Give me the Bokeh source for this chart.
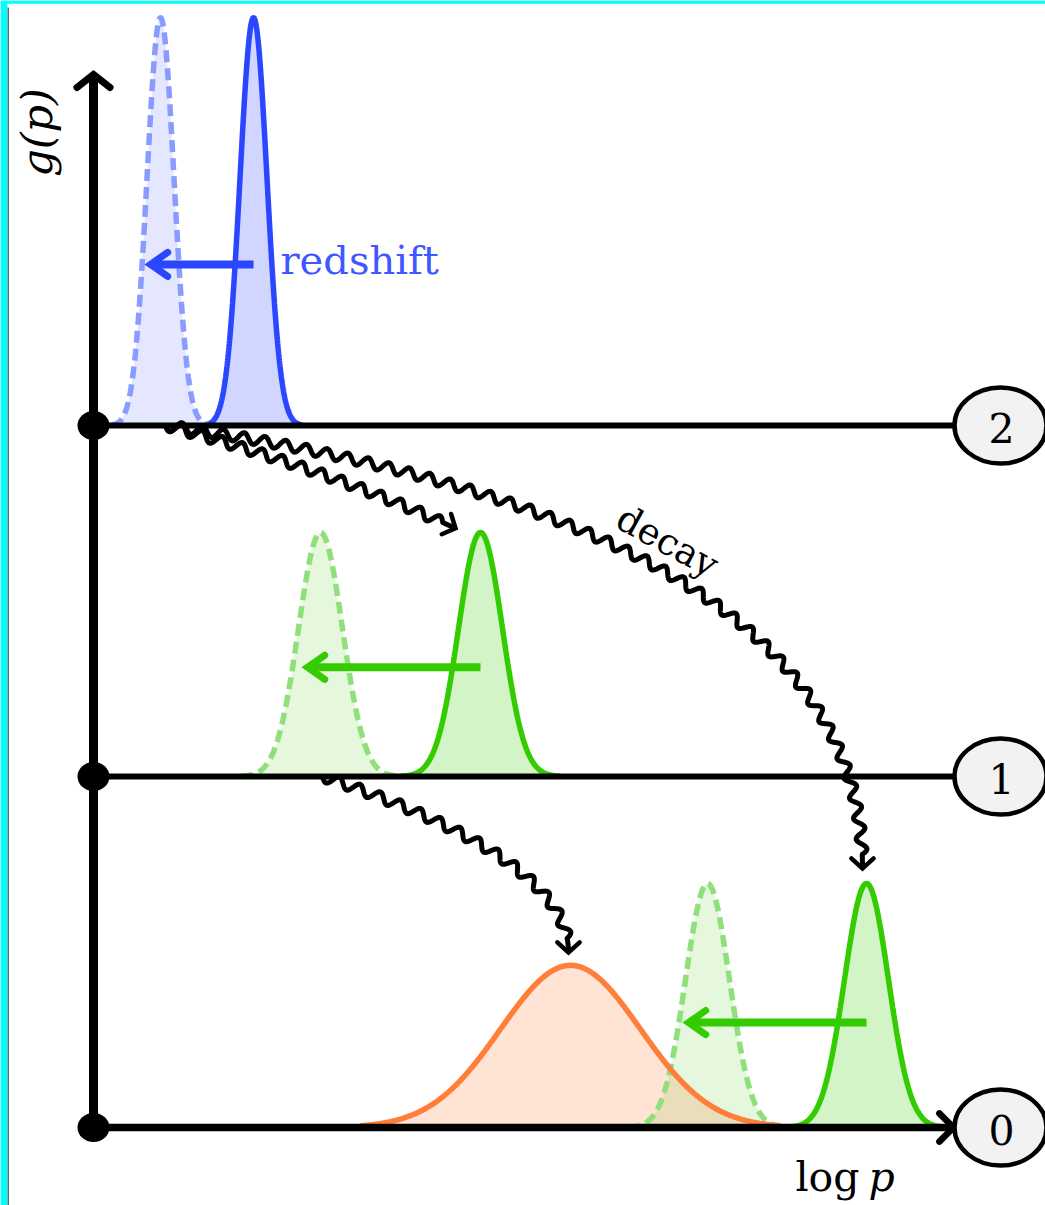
import numpy as np
from bokeh.plotting import figure
from bokeh.models import Range1d
from bokeh.core.properties import value
from bokeh.embed import file_html
from bokeh.resources import INLINE

# ---------------- data ----------------
level_labels = ["0", "1", "2"]
level_values = [0, 1, 2]
axis_top = 3.0        # extent of the g(p) axis
axis_right = 860      # extent of the log p axis

# peaks: level, centre (log p units), sigma, height (level units)
peak_level = [2, 2, 1, 1, 0, 0, 0]
peak_center = [160, 67, 387, 227, 773, 614, 477]
peak_sigma = [13.5, 13.5, 22, 22, 22, 22, 70]
peak_height = [1.162, 1.162, 0.695, 0.695, 0.695, 0.695, 0.462]
peak_kind = ["source", "shifted", "source", "shifted", "source", "shifted", "decay"]
peak_family = ["blue", "blue", "green", "green", "green", "green", "orange"]

# redshift arrows
redshift_from = [160, 387, 773]
redshift_to = [57, 214, 595]
redshift_y = [2.459, 1.311, 0.299]
redshift_family = ["blue", "green", "green"]

# decay (wavy) arrows: start, end, bend control point
decay_x0 = [72, 72, 229]
decay_y0 = [2, 2, 1]
decay_x1 = [362, 769, 475]
decay_y1 = [1.707, 0.738, 0.499]
decay_cx = [237, 769, 475]
decay_cy = [1.872, 1.718, 0.766]

# ---------------- styles ----------------
SOLID = {"blue": "#2b46ff", "green": "#33cc00", "orange": "#ff7f3a"}
DASHED = {"blue": "#8a9bff", "green": "#8fe07a"}
SERIF = value("DejaVu Serif")

# pixel <-> data helpers (1 x unit = 1 px, 1 level = 351 px)
OX, OY, LS = 93.0, 1127.0, 351.0


def PX(x):
    return np.asarray(x, float) + OX


def PY(y):
    return OY - LS * np.asarray(y, float)


def DX(px):
    return np.asarray(px, float) - OX


def DY(py):
    return (OY - np.asarray(py, float)) / LS


p = figure(width=1045, height=1205,
           x_range=Range1d(DX(0), DX(1045)), y_range=Range1d(DY(1205), DY(0)),
           output_backend="svg", toolbar_location=None, min_border=0,
           x_axis_type=None, y_axis_type=None, outline_line_color=None,
           background_fill_color="white", border_fill_color="white")
p.xgrid.grid_line_color = None
p.ygrid.grid_line_color = None

# frame decoration (cyan edges)
p.quad(left=[DX(0), DX(0)], right=[DX(7), DX(1045)],
       bottom=[DY(1205), DY(3.3)], top=[DY(0), DY(0)],
       fill_color="#00ffff", line_color=None)
p.line(x=[DX(7.8), DX(7.8)], y=[DY(7), DY(1205)], line_color="#666666", line_width=1.5)

# ---------------- peaks ----------------
for lv, mu, sg, h, kind, fam in zip(peak_level, peak_center, peak_sigma,
                                     peak_height, peak_kind, peak_family):
    span = 3.0 if kind == "decay" else 3.6
    xs = np.linspace(mu - span * sg, mu + span * sg, 300)
    ys = lv + h * np.exp(-0.5 * ((xs - mu) / sg) ** 2)
    col = SOLID[fam]
    alpha = 0.13 if kind == "shifted" else 0.22
    p.varea(x=xs, y1=np.full_like(xs, lv), y2=ys, fill_color=col, fill_alpha=alpha)

for lv, mu, sg, h, kind, fam in zip(peak_level, peak_center, peak_sigma,
                                     peak_height, peak_kind, peak_family):
    span = 3.0 if kind == "decay" else 3.6
    xs = np.linspace(mu - span * sg, mu + span * sg, 300)
    ys = lv + h * np.exp(-0.5 * ((xs - mu) / sg) ** 2)
    if kind == "shifted":
        p.line(xs, ys, line_color=DASHED[fam], line_width=5.5, line_dash="12 6")
    else:
        p.line(xs, ys, line_color=SOLID[fam], line_width=5.5)

# ---------------- axes and levels ----------------
for lv in level_values[1:]:
    p.line(x=[0, axis_right], y=[lv, lv], line_color="black", line_width=6)
p.line(x=[0, axis_right], y=[0, 0], line_color="black", line_width=7.5)
p.line(x=[0, 0], y=[0, axis_top], line_color="black", line_width=9)


def chevron(tip_px, tip_py, dirx, diry, length, half_angle_deg):
    d = np.array([dirx, diry], float)
    d /= np.hypot(*d)
    a = np.radians(half_angle_deg)
    pts = []
    for s in (1, -1):
        ca, sa = np.cos(s * a), np.sin(s * a)
        r = np.array([d[0] * ca - d[1] * sa, d[0] * sa + d[1] * ca])
        pts.append((tip_px - length * r[0], tip_py - length * r[1]))
    xs = [pts[0][0], tip_px, pts[1][0]]
    ys = [pts[0][1], tip_py, pts[1][1]]
    return DX(xs), DY(ys)


hx, hy = chevron(PX(0), PY(axis_top), 0, -1, 21, 52)
p.line(hx, hy, line_color="black", line_width=7, line_join="miter", line_cap="round")
hx, hy = chevron(PX(axis_right), PY(0), 1, 0, 20, 45)
p.line(hx, hy, line_color="black", line_width=6.5, line_join="miter", line_cap="round")

p.ellipse(x=[0] * len(level_values), y=level_values, width=32, height=29,
          width_units="screen", height_units="screen",
          fill_color="black", line_color=None)

# ---------------- redshift arrows ----------------
for x0, x1, y, fam in zip(redshift_from, redshift_to, redshift_y, redshift_family):
    col = SOLID[fam]
    p.line(x=[x0, x1 + 3], y=[y, y], line_color=col, line_width=8)
    hx, hy = chevron(PX(x1), PY(y), -1, 0, 21, 35)
    p.line(hx, hy, line_color=col, line_width=7, line_join="miter", line_cap="round")

# ---------------- decay wavy arrows ----------------
def snake(p0, c, p2, amp=5.0, wl=21.0, post=14.0, n=1500):
    t = np.linspace(0, 1, n)[:, None]
    P = (1 - t) ** 2 * p0 + 2 * t * (1 - t) * c + t ** 2 * p2
    seg = np.hypot(*np.diff(P, axis=0).T)
    s = np.concatenate([[0], np.cumsum(seg)])
    L = s[-1]
    tang = np.gradient(P, axis=0)
    tang /= np.hypot(tang[:, 0], tang[:, 1])[:, None]
    nrm = np.stack([-tang[:, 1], tang[:, 0]], axis=1)
    wave_len = L - post
    k = max(1, round(wave_len / wl))
    wle = wave_len / k
    off = np.where(s <= wave_len, amp * np.sin(2 * np.pi * s / wle), 0.0)
    Q = P + nrm * off[:, None]
    return Q, tang[-1]


for x0, y0, x1, y1, cx, cy in zip(decay_x0, decay_y0, decay_x1, decay_y1, decay_cx, decay_cy):
    p0 = np.array([PX(x0), PY(y0)])
    c = np.array([PX(cx), PY(cy)])
    p2 = np.array([PX(x1), PY(y1)])
    Q, d = snake(p0, c, p2)
    p.line(DX(Q[:, 0]), DY(Q[:, 1]), line_color="black", line_width=5, line_join="miter")
    hx, hy = chevron(p2[0], p2[1], d[0], d[1], 15, 48)
    p.line(hx, hy, line_color="black", line_width=4.5, line_join="miter", line_cap="round")

# ---------------- level badges ----------------
badge_x = axis_right + 47
p.ellipse(x=[badge_x] * len(level_values), y=level_values, width=92, height=76,
          width_units="screen", height_units="screen",
          fill_color="#f2f2f2", line_color="black", line_width=4.5)
p.text(x=[badge_x + 1] * len(level_values), y=[v - 0.006 for v in level_values],
       text=level_labels, text_font=SERIF, text_font_size="41px",
       text_align="center", text_baseline="middle", text_color="black")

# ---------------- labels ----------------
p.text(x=[DX(280)], y=[DY(259)], text=["redshift"], text_font=SERIF,
       text_font_size="40px", text_align="left", text_baseline="alphabetic",
       text_color="#3e57ff")
p.text(x=[DX(667)], y=[DY(541)], text=["decay"], text_font=SERIF,
       text_font_size="37px", text_align="center", text_baseline="middle",
       angle=-0.5, text_color="black")
p.text(x=[DX(859)], y=[DY(1176)], text=["log"], text_font=SERIF,
       text_font_size="41px", text_align="right", text_baseline="alphabetic",
       text_color="black")
p.text(x=[DX(868)], y=[DY(1176)], text=["p"], text_font=SERIF,
       text_font_size="41px", text_font_style="italic", text_align="left",
       text_baseline="alphabetic", text_color="black")
p.text(x=[DX(36)], y=[DY(132)], text=["g(p)"], text_font=SERIF,
       text_font_size="43px", text_font_style="italic", text_align="center",
       text_baseline="middle", angle=np.pi / 2, text_color="black")

open("out.html", "w").write(file_html(p, INLINE))
